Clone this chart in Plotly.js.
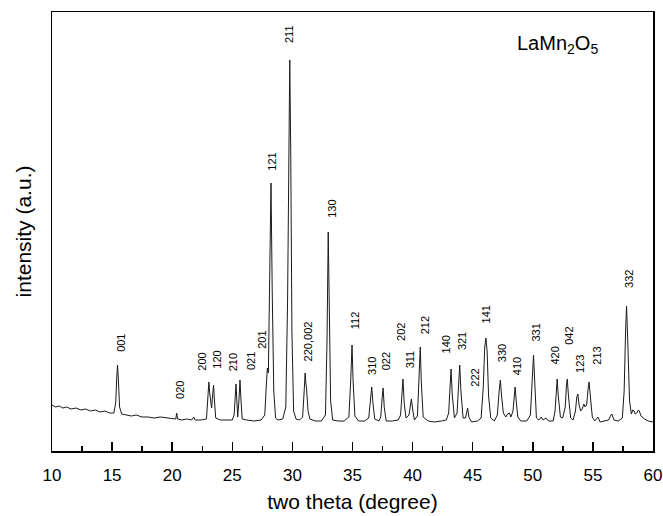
<!DOCTYPE html>
<html>
<head>
<meta charset="utf-8">
<script src="https://cdn.plot.ly/plotly-3.0.1.min.js"></script>
<style>html,body{margin:0;padding:0;background:#fff}#chart{width:663px;height:516px}</style>
</head>
<body>
<div id="chart"></div>
<script>
// XRD pattern readings: two theta (degree) and intensity (a.u.)
var twoTheta = [
  10.0,10.3,10.6,10.9,11.2,11.6,12.0,12.4,12.8,13.2,13.6,14.0,14.4,14.8,15.15,
  15.3,15.38,15.45,15.52,15.62,15.8,16.2,16.6,17.0,17.5,18.0,18.5,19.0,19.5,20.0,
  20.3,20.37,20.45,20.8,21.2,21.6,21.8,21.9,22.4,22.85,
  22.98,23.05,23.12,23.2,23.28,23.36,23.44,23.52,23.62,24.0,24.5,25.0,
  25.15,25.25,25.31,25.38,25.45,25.55,25.64,25.72,25.82,26.2,26.8,27.4,
  27.7,27.85,27.92,28.0,28.1,28.22,28.32,28.45,28.6,28.8,29.2,
  29.45,29.6,29.72,29.78,29.86,29.96,30.1,30.3,30.6,
  30.85,30.98,31.06,31.12,31.18,31.3,31.45,31.9,32.4,
  32.75,32.88,32.98,33.06,33.18,33.35,33.8,34.3,
  34.7,34.85,34.96,35.05,35.2,35.5,36.0,
  36.35,36.5,36.6,36.7,36.85,37.2,37.35,37.46,37.55,37.64,37.8,38.3,38.8,
  39.0,39.12,39.2,39.3,39.45,39.7,39.82,39.9,40.0,40.15,
  40.4,40.54,40.64,40.72,40.88,41.3,41.8,42.4,42.8,
  43.0,43.12,43.2,43.3,43.48,43.7,43.84,43.92,44.02,44.2,44.4,44.52,44.58,44.68,44.9,45.4,
  45.7,45.88,46.0,46.1,46.2,46.32,46.5,46.8,
  47.05,47.2,47.3,47.4,47.55,47.75,47.9,48.05,48.18,48.35,48.46,48.53,48.62,48.75,49.0,49.5,
  49.8,49.96,50.06,50.14,50.3,50.5,50.7,50.85,51.1,51.3,51.7,
  51.85,51.96,52.03,52.12,52.3,52.48,52.7,52.8,52.87,52.96,53.15,53.35,
  53.55,53.66,53.75,53.85,53.98,54.1,54.25,54.35,54.48,54.6,54.68,54.78,54.95,55.15,55.42,55.6,
  56.0,56.3,56.5,56.58,56.75,57.1,
  57.45,57.6,57.72,57.8,57.9,58.05,58.2,58.32,58.42,58.52,58.65,58.78,58.86,59.0,59.3,59.6,60.0
];
var intensity = [
  46,44,45,43,44,42,43,41,42,40,41,39,40,38,38,
  48,72,86,72,44,37,36,35,36,34,34,33,34,33,32,
  32,38,32,31,32,31,34,31,31,32,
  52,69,58,48,43,55,66,50,33,31,31,31,
  36,60,67,50,34,50,71,52,32,31,30,31,
  36,70,83,78,160,268,160,60,33,31,32,
  44,150,350,391,300,120,40,32,31,
  34,60,78,68,62,40,32,30,30,
  36,110,219,150,50,31,30,30,
  34,70,106,70,35,30,30,
  33,50,64,48,32,30,34,52,63,44,30,30,31,
  36,60,72,48,33,36,48,52,42,31,
  35,80,104,70,34,30,29,30,31,
  38,68,82,56,33,38,70,86,60,33,33,42,43,34,29,30,
  33,64,104,113,100,55,33,30,
  36,60,71,55,38,34,37,38,34,40,58,64,50,34,30,30,
  36,76,96,75,33,31,34,31,33,30,30,
  40,64,72,55,34,33,44,66,72,56,33,31,
  40,54,57,46,40,42,47,44,46,62,69,56,34,30,34,29,
  30,31,36,37,31,30,
  33,60,120,145,110,50,37,41,40,37,38,41,40,35,32,30,29
];

// Miller index labels and where they sit
var hklLabels = ["001","020","200","120","210","021","201","121","211","220,002","130","112","310","022",
                 "202","311","212","140","321","222","141","330","410","331","420","042","123","213","332"];
var labelTheta = [15.73,20.64,22.45,23.70,25.08,26.56,27.45,28.28,29.72,31.33,33.28,35.23,36.62,37.77,
                  39.03,39.81,41.06,42.81,44.12,45.17,46.14,47.45,48.70,50.23,51.81,53.00,53.92,55.31,58.00];
var labelLevel = [108,61,89,91,89,90,111,289,417,110,242,131,85,89.5,
                  119,92,126,107,110,73,137,98,85,118,95,115,87,95,172];

var sampleName = "LaMn<sub>2</sub>O<sub>5</sub>";

var FONT = '"Liberation Sans", Arial, sans-serif';

var annotations = hklLabels.map(function (t, i) {
  return {
    x: labelTheta[i], y: labelLevel[i], xref: 'x', yref: 'y',
    text: t, showarrow: false, textangle: -90,
    xanchor: 'center', yanchor: 'middle',
    font: {family: FONT, size: 11, color: '#000'}
  };
});
annotations.push({
  x: 0.771, y: 0.925, xref: 'paper', yref: 'paper',
  text: sampleName, showarrow: false, xanchor: 'left', yanchor: 'middle',
  font: {family: FONT, size: 20, color: '#000'}
});

var trace = {
  x: twoTheta, y: intensity, type: 'scatter', mode: 'lines',
  line: {color: '#1a1a1a', width: 1}, hoverinfo: 'x+y'
};

var layout = {
  width: 663, height: 516,
  margin: {l: 52, r: 10, t: 12, b: 65, pad: 0},
  paper_bgcolor: '#fff', plot_bgcolor: '#fff',
  showlegend: false,
  font: {family: FONT, color: '#000'},
  xaxis: {
    range: [10, 60], dtick: 5, tick0: 10,
    ticks: 'inside', ticklen: 9, tickwidth: 1.5, tickcolor: '#000',
    ticklabelstandoff: 8,
    minor: {dtick: 2.5, ticks: 'inside', ticklen: 5, tickwidth: 1.5, tickcolor: '#000'},
    showline: true, mirror: true, linecolor: '#000', linewidth: 1.5,
    showgrid: false, zeroline: false,
    tickfont: {family: FONT, size: 17, color: '#000'},
    title: {text: 'two theta (degree)', font: {family: FONT, size: 21, color: '#000'}, standoff: 10}
  },
  yaxis: {
    range: [0, 439],
    showticklabels: false, ticks: '',
    showline: true, mirror: true, linecolor: '#000', linewidth: 1.5,
    showgrid: false, zeroline: false,
    title: {text: 'intensity (a.u.)', font: {family: FONT, size: 21, color: '#000'}, standoff: 13}
  },
  annotations: annotations
};

Plotly.newPlot('chart', [trace], layout, {displayModeBar: false, staticPlot: true});
</script>
</body>
</html>
